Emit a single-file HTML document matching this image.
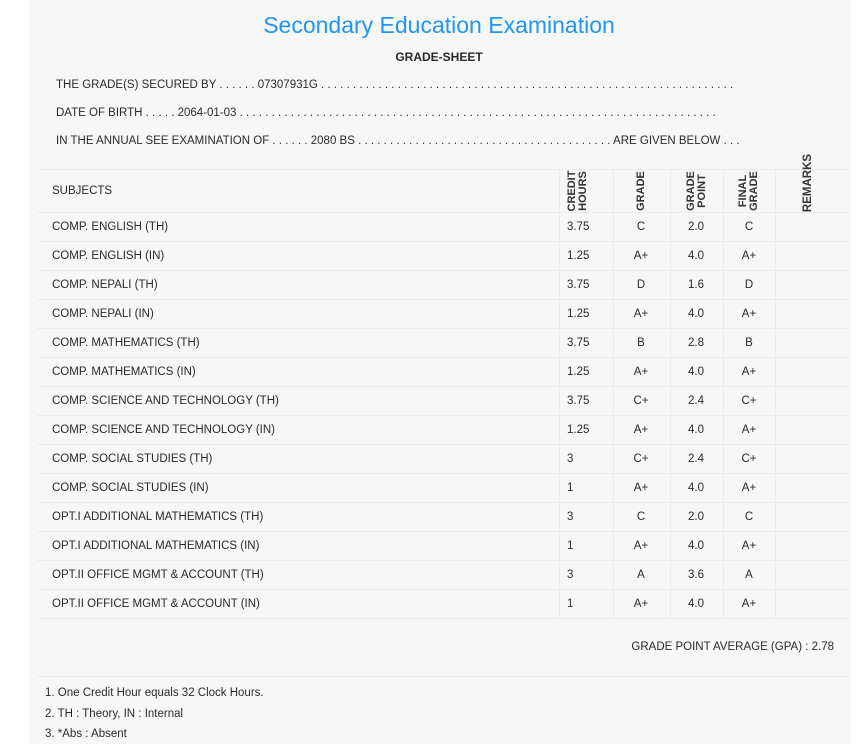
<!DOCTYPE html>
<html><head><style>
body{margin:0;width:862px;height:744px;background:#fff;font-family:"Liberation Sans",sans-serif;color:#333;position:relative;overflow:hidden}
#panel{position:absolute;left:29px;top:0;width:822px;height:744px;background:#f7f7f7}
.t{position:absolute;font-size:11.5px;white-space:nowrap;color:#2a2a2a}
.h{position:absolute;left:37px;width:813px;height:1px;background:#ececec}
.v{position:absolute;width:1px;background:#ececec}
.c{position:absolute;font-size:11.5px;text-align:center;width:40px;margin-left:-20px;color:#2a2a2a}
.rot{position:absolute;font-size:11px;font-weight:bold;transform:rotate(-90deg);transform-origin:center;text-align:center;line-height:11px;white-space:nowrap}
</style></head><body>
<div id="panel"></div>
<div class="t" style="left:0;width:878px;text-align:center;top:12px;font-size:23px;color:#2196f3">Secondary Education Examination</div>
<div class="t" style="left:0;width:878px;text-align:center;top:50px;font-size:12px;font-weight:bold">GRADE-SHEET</div>
<div class="t" style="left:56px;top:79px">THE GRADE(S) SECURED BY . . . . . . 07307931G . . . . . . . . . . . . . . . . . . . . . . . . . . . . . . . . . . . . . . . . . . . . . . . . . . . . . . . . . . . . . . . . .</div>
<div class="t" style="left:56px;top:107px">DATE OF BIRTH . . . . . 2064-01-03 . . . . . . . . . . . . . . . . . . . . . . . . . . . . . . . . . . . . . . . . . . . . . . . . . . . . . . . . . . . . . . . . . . . . . . . . . . .</div>
<div class="t" style="left:56px;top:135px">IN THE ANNUAL SEE EXAMINATION OF . . . . . . 2080 BS . . . . . . . . . . . . . . . . . . . . . . . . . . . . . . . . . . . . . . . . ARE GIVEN BELOW . . .</div>
<div class="h" style="top:169px"></div>
<div class="h" style="top:212px"></div>
<div class="t" style="left:52px;top:185px">SUBJECTS</div>
<div class="rot" style="left:557px;top:170px;width:42px;height:42px;display:flex;align-items:center;justify-content:center"><div>CREDIT<br>HOURS</div></div>
<div class="rot" style="left:620px;top:170px;width:42px;height:42px;line-height:42px">GRADE</div>
<div class="rot" style="left:676px;top:170px;width:42px;height:42px;display:flex;align-items:center;justify-content:center"><div>GRADE<br>POINT</div></div>
<div class="rot" style="left:728px;top:170px;width:42px;height:42px;display:flex;align-items:center;justify-content:center"><div>FINAL<br>GRADE</div></div>
<div class="rot" style="left:778px;top:162px;width:60px;height:42px;line-height:42px;font-size:11.5px">REMARKS</div>
<div id="rows"></div>
<div class="v" style="left:559px;top:169px;height:449px"></div>
<div class="v" style="left:613px;top:169px;height:449px"></div>
<div class="v" style="left:670px;top:169px;height:449px"></div>
<div class="v" style="left:723px;top:169px;height:449px"></div>
<div class="v" style="left:775px;top:169px;height:449px"></div>
<div class="t" style="right:28px;top:641px">GRADE POINT AVERAGE (GPA) : 2.78</div>
<div class="h" style="top:676px"></div>
<div class="t" style="left:45px;top:687px">1. One Credit Hour equals 32 Clock Hours.</div>
<div class="t" style="left:45px;top:708px">2. TH : Theory, IN : Internal</div>
<div class="t" style="left:45px;top:728px">3. *Abs : Absent</div>
<script>
var d=[["COMP. ENGLISH (TH)","3.75","C","2.0"],["COMP. ENGLISH (IN)","1.25","A+","4.0"],["COMP. NEPALI (TH)","3.75","D","1.6"],["COMP. NEPALI (IN)","1.25","A+","4.0"],["COMP. MATHEMATICS (TH)","3.75","B","2.8"],["COMP. MATHEMATICS (IN)","1.25","A+","4.0"],["COMP. SCIENCE AND TECHNOLOGY (TH)","3.75","C+","2.4"],["COMP. SCIENCE AND TECHNOLOGY (IN)","1.25","A+","4.0"],["COMP. SOCIAL STUDIES (TH)","3","C+","2.4"],["COMP. SOCIAL STUDIES (IN)","1","A+","4.0"],["OPT.I ADDITIONAL MATHEMATICS (TH)","3","C","2.0"],["OPT.I ADDITIONAL MATHEMATICS (IN)","1","A+","4.0"],["OPT.II OFFICE MGMT & ACCOUNT (TH)","3","A","3.6"],["OPT.II OFFICE MGMT & ACCOUNT (IN)","1","A+","4.0"]];
var h="";d.forEach(function(r,i){var y=212+i*29;var ty=y+9;
h+='<div class="h" style="top:'+(y+29)+'px"></div>';
h+='<div class="t" style="left:52px;top:'+ty+'px">'+r[0].replace("&","&amp;")+'</div>';
h+='<div class="t" style="left:567px;top:'+ty+'px">'+r[1]+'</div>';
h+='<div class="c" style="left:641px;top:'+ty+'px">'+r[2]+'</div>';
h+='<div class="c" style="left:696px;top:'+ty+'px">'+r[3]+'</div>';
h+='<div class="c" style="left:749px;top:'+ty+'px">'+r[2]+'</div>';});
document.getElementById("rows").innerHTML=h;
</script>
</body></html>
